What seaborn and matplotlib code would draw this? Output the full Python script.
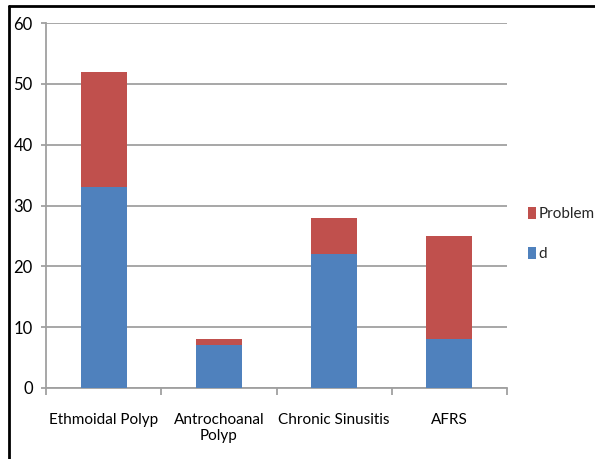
import matplotlib
matplotlib.use("Agg")
import matplotlib.pyplot as plt
from matplotlib.lines import Line2D
from matplotlib.patches import Patch
import seaborn as sns
import pandas as pd

categories = ["Ethmoidal Polyp", "Antrochoanal\nPolyp", "Chronic Sinusitis", "AFRS"]
d_values = [33, 7, 22, 8]
problem_values = [19, 1, 6, 17]

BLUE = "#4F81BD"
RED = "#C0504D"
GRID = "#A0A0A0"

sns.set_theme(style="white")
plt.rcParams["font.family"] = ["Lato", "DejaVu Sans"]

df = pd.DataFrame({
    "category": categories,
    "d": d_values,
    "Problem": problem_values,
})
df["total"] = df["d"] + df["Problem"]

fig = plt.figure(figsize=(5.95, 4.59), dpi=100)
ax = fig.add_axes([46 / 595, 1 - 388 / 459, (507 - 46) / 595, (388 - 23) / 459])

# stacked bars: full height in red, lower segment in blue over it
sns.barplot(data=df, x="category", y="total", color=RED, width=0.4,
            saturation=1, ax=ax, zorder=3, linewidth=0)
sns.barplot(data=df, x="category", y="d", color=BLUE, width=0.4,
            saturation=1, ax=ax, zorder=4, linewidth=0)

ax.set_ylim(0, 60)
ax.set_xlim(-0.5, len(categories) - 0.5)
ax.set_yticks(range(0, 61, 10))
ax.set_xlabel("")
ax.set_ylabel("")
ax.yaxis.grid(True, color=GRID, linewidth=1.3, zorder=0)
ax.set_axisbelow(True)

for side in ("top", "right"):
    ax.spines[side].set_visible(False)
for side in ("left", "bottom"):
    ax.spines[side].set_color(GRID)
    ax.spines[side].set_linewidth(1.3)

ax.tick_params(axis="y", which="major", left=True, length=3.6, width=1.3,
               color=GRID, labelsize=12, labelcolor="black", pad=6)
ax.tick_params(axis="x", which="major", bottom=False, labelsize=11,
               labelcolor="black", pad=12)
ax.set_xticks([i - 0.5 for i in range(len(categories) + 1)], minor=True)
ax.tick_params(axis="x", which="minor", bottom=True, length=5, width=1.3,
               color=GRID)

handles = [Patch(facecolor=RED, edgecolor="none", label="Problem"),
           Patch(facecolor=BLUE, edgecolor="none", label="d")]
fig.legend(handles=handles, loc="center left",
           bbox_to_anchor=(528 / 595, 1 - 234 / 459), frameon=False,
           fontsize=11, handlelength=0.5, handleheight=0.85,
           handletextpad=0.2, labelspacing=1.65, borderpad=0,
           borderaxespad=0)

# outer frame lines along the top and left edges
fig.add_artist(Line2D([9 / 595, 1], [1 - 6 / 459, 1 - 6 / 459],
                      transform=fig.transFigure, color="black", linewidth=2))
fig.add_artist(Line2D([9 / 595, 9 / 595], [0, 1 - 6 / 459],
                      transform=fig.transFigure, color="black", linewidth=2))

fig.savefig("out.png", dpi=100)
